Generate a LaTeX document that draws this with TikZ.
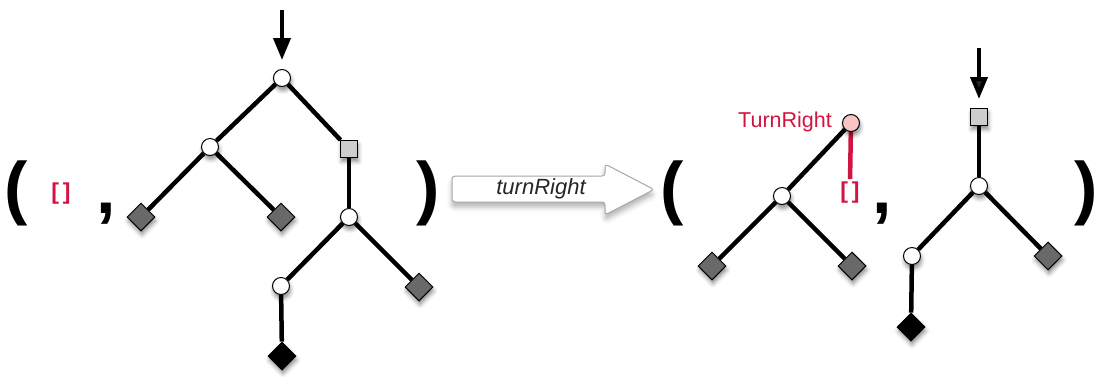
\documentclass[tikz,border=0pt]{standalone}
\usepackage{fontspec}
\setmainfont{Liberation Sans}
\usetikzlibrary{arrows.meta,shadows.blur,backgrounds,shapes.geometric}
\definecolor{crim}{RGB}{210,20,65}
\definecolor{pinkfill}{RGB}{248,196,196}
\definecolor{sqfill}{RGB}{205,205,205}
\definecolor{dmfill}{RGB}{105,105,105}
\tikzset{
  sh/.style={blur shadow={shadow xshift=1pt,shadow yshift=-4pt,shadow blur radius=4pt,shadow opacity=45}},
  cnode/.style={circle,draw=black,line width=1pt,fill=white,minimum size=17pt,inner sep=0pt,sh},
  pnode/.style={cnode,fill=pinkfill},
  snode/.style={rectangle,draw=black,line width=1pt,fill=sqfill,minimum size=17pt,inner sep=0pt,sh},
  dnode/.style={diamond,aspect=1,draw=black,line width=1pt,fill=dmfill,minimum size=28pt,inner sep=0pt,sh},
  bnode/.style={dnode,fill=black},
  edge/.style={line width=4.5pt,black},
  redge/.style={line width=4.5pt,crim},
  paren/.style={font=\fontsize{70}{70}\selectfont\bfseries,inner sep=0pt},
  brk/.style={font=\fontsize{23}{23}\selectfont\bfseries,text=crim,inner sep=0pt},
  inarrow/.style={line width=4pt,-{Triangle[width=17pt,length=22pt]}},
}
\begin{document}
\begin{tikzpicture}[x=1pt,y=-1pt]
\useasboundingbox (0,0) rectangle (1096,376);
% left pair
\node[paren] (lp1) at (16,193) {(};
\node[brk] (e1) at (61,194) {[\,]};
\node[paren] (cm1) at (106,214) {,};
\node[paren] (rp1) at (428,193) {)};
\coordinate (t1) at (282,10);
\node[cnode] (r1) at (282,78) {};
\node[cnode] (a1) at (210,147) {};
\node[snode] (s1) at (349,149) {};
\node[dnode] (d1) at (141,217) {};
\node[dnode] (d2) at (281,217) {};
\node[cnode] (c1) at (349,217) {};
\node[cnode] (c2) at (281,286) {};
\node[dnode] (d3) at (419,287) {};
\node[bnode] (b1) at (282,356) {};
\draw[inarrow,shorten >=9pt] (t1) -- (r1.north);
% arrow
\path[draw=gray!70,line width=1pt,fill=white,rounded corners=3pt,blur shadow={shadow xshift=0pt,shadow yshift=-5pt,shadow blur radius=5pt,shadow opacity=30}]
  (452,176) -- (605,176) -- (605,164) -- (654,189.5) -- (605,215) -- (605,202) -- (452,202) -- cycle;
\node[font=\fontsize{22}{22}\selectfont\itshape,text=black!85,inner sep=0pt] (lbl) at (541,189) {turnRight};
% right pair
\node[paren] (lp2) at (672,193) {(};
\node[pnode] (p1) at (851,123) {};
\node[text=crim,font=\fontsize{21.5}{22}\selectfont,anchor=east,inner sep=0pt] (tr) at (832,122) {TurnRight};
\node[cnode] (a2) at (782,196) {};
\node[dnode] (d4) at (712,266) {};
\node[dnode] (d5) at (852,266) {};
\node[brk] (e2) at (850,193) {[\,]};
\node[paren] (cm2) at (882,214) {,};
\node[paren] (rp2) at (1086,193) {)};
\coordinate (t2) at (979,48);
\node[snode] (s2) at (979,117) {};
\node[cnode] (c3) at (979,186) {};
\node[cnode] (c4) at (912,256) {};
\node[dnode] (d6) at (1048,256) {};
\node[bnode] (b2) at (911,327) {};
\draw[inarrow,shorten >=9pt] (t2) -- (s2.north);
\begin{scope}[on background layer]
  \draw[edge] (r1) -- (a1);
  \draw[edge] (r1) -- (s1);
  \draw[edge] (a1) -- (d1);
  \draw[edge] (a1) -- (d2);
  \draw[edge] (s1) -- (c1);
  \draw[edge] (c1) -- (c2);
  \draw[edge] (c1) -- (d3);
  \draw[edge] (c2) -- (b1);
  \draw[edge] (p1) -- (a2);
  \draw[edge] (a2) -- (d4);
  \draw[edge] (a2) -- (d5);
  \draw[redge,shorten >=3pt] (p1) -- (e2.north);
  \draw[edge] (s2) -- (c3);
  \draw[edge] (c3) -- (c4);
  \draw[edge] (c3) -- (d6);
  \draw[edge] (c4) -- (b2);
\end{scope}
\end{tikzpicture}
\end{document}
